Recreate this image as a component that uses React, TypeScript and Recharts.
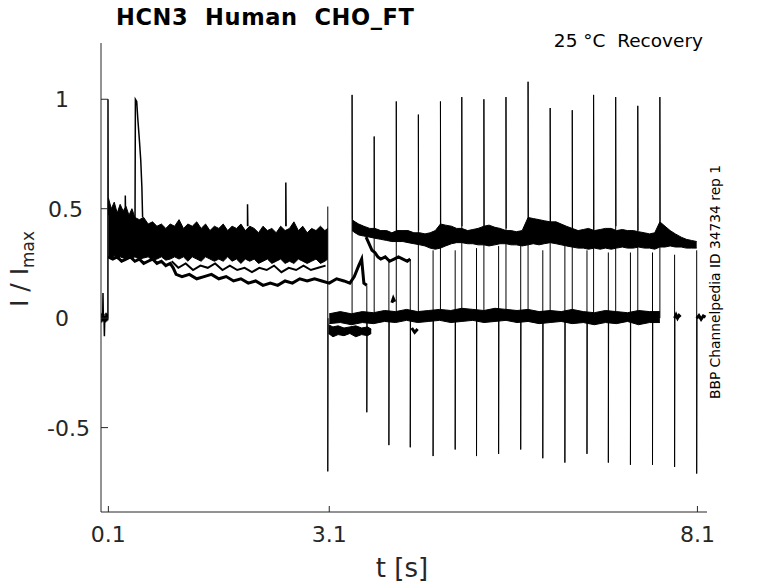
import { ComposedChart, Line, Area, XAxis, YAxis } from "recharts";

const FONT = "DejaVu Sans, sans-serif";
const INK = "#262626";

const xTicks = [0.1, 3.1, 8.1];
const xTickLabels = ["0.1", "3.1", "8.1"];
const yTicks = [-0.5, 0, 0.5, 1];
const yTickLabels = ["-0.5", "0   ", "0.5 ", "1   "];

// holding level and activating step (0 - 0.1 s)
const preT = [0.0, 0.008, 0.016, 0.022, 0.027, 0.032, 0.04, 0.046, 0.052, 0.06, 0.068, 0.076, 0.084, 0.09, 0.094, 0.095, 0.097, 0.1];
const preV = [0.02, -0.02, 0.025, -0.015, 0.115, 0.0, 0.02, -0.083, 0.01, -0.02, 0.025, -0.015, 0.02, -0.01, 0.0, 1.0, 0.55, 0.47];

// dense bundle of sweeps during the conditioning step
const bandT = [0.10, 0.14, 0.18, 0.22, 0.26, 0.30, 0.34, 0.38, 0.42, 0.46, 0.52, 0.58, 0.64, 0.70, 0.76, 0.82, 0.88, 0.94, 1.00, 1.06, 1.12, 1.18, 1.24, 1.30, 1.36, 1.42, 1.48, 1.54, 1.60, 1.66, 1.72, 1.78, 1.84, 1.90, 1.96, 2.02, 2.08, 2.14, 2.20, 2.26, 2.32, 2.38, 2.44, 2.50, 2.56, 2.62, 2.68, 2.74, 2.80, 2.86, 2.92, 2.98, 3.04, 3.08];
const bandHi = [0.55, 0.50, 0.53, 0.48, 0.52, 0.49, 0.51, 0.47, 0.50, 0.46, 0.45, 0.46, 0.43, 0.44, 0.42, 0.43, 0.41, 0.43, 0.42, 0.45, 0.41, 0.43, 0.42, 0.44, 0.41, 0.43, 0.40, 0.42, 0.41, 0.43, 0.40, 0.42, 0.41, 0.43, 0.40, 0.42, 0.41, 0.39, 0.42, 0.40, 0.41, 0.39, 0.42, 0.40, 0.41, 0.44, 0.40, 0.42, 0.39, 0.41, 0.40, 0.42, 0.40, 0.41];
const bandLo = [0.28, 0.27, 0.285, 0.27, 0.28, 0.275, 0.27, 0.285, 0.27, 0.28, 0.27, 0.275, 0.28, 0.265, 0.27, 0.28, 0.265, 0.27, 0.28, 0.27, 0.28, 0.26, 0.28, 0.27, 0.26, 0.28, 0.27, 0.26, 0.27, 0.26, 0.28, 0.26, 0.27, 0.25, 0.27, 0.26, 0.27, 0.25, 0.26, 0.27, 0.25, 0.26, 0.27, 0.25, 0.26, 0.25, 0.27, 0.26, 0.25, 0.26, 0.27, 0.25, 0.26, 0.27];

// a sweep just under the bundle
const midT = [0.96, 1.05, 1.15, 1.25, 1.35, 1.45, 1.55, 1.65, 1.75, 1.85, 1.95, 2.05, 2.15, 2.25, 2.35, 2.45, 2.55, 2.65, 2.75, 2.85, 2.95, 3.05];
const midV = [0.26, 0.23, 0.25, 0.22, 0.24, 0.23, 0.25, 0.22, 0.24, 0.22, 0.23, 0.21, 0.23, 0.22, 0.24, 0.21, 0.23, 0.22, 0.24, 0.22, 0.23, 0.24];

// lowest sweep, runs through 3.1 s
const lowT = [0.10, 0.16, 0.22, 0.28, 0.34, 0.40, 0.46, 0.52, 0.58, 0.64, 0.70, 0.76, 0.82, 0.88, 0.94, 0.98, 1.02, 1.10, 1.20, 1.30, 1.40, 1.50, 1.60, 1.70, 1.80, 1.90, 2.00, 2.10, 2.20, 2.30, 2.40, 2.50, 2.60, 2.70, 2.80, 2.90, 3.00, 3.10, 3.20, 3.30, 3.38, 3.44, 3.50, 3.54, 3.57, 3.61];
const lowV = [0.28, 0.27, 0.28, 0.26, 0.27, 0.28, 0.26, 0.27, 0.25, 0.26, 0.27, 0.25, 0.26, 0.24, 0.25, 0.23, 0.20, 0.19, 0.20, 0.18, 0.19, 0.20, 0.18, 0.19, 0.17, 0.18, 0.16, 0.17, 0.15, 0.16, 0.15, 0.17, 0.16, 0.18, 0.17, 0.18, 0.17, 0.16, 0.18, 0.17, 0.16, 0.19, 0.24, 0.27, 0.16, 0.15];

// transient peak at ~0.47 s
const peakT = [0.462, 0.467, 0.485, 0.5, 0.52, 0.54, 0.555, 0.565];
const peakV = [0.45, 1.0, 0.99, 0.91, 0.82, 0.72, 0.6, 0.46];

// short glitches on top of the bundle
const blipT = [0.33, 1.99, 2.51];
const blipBase = [0.47, 0.42, 0.42];
const blipPeak = [0.56, 0.52, 0.62];

// recovery period: sweeps back at zero
const zeroT = [3.10, 3.25, 3.40, 3.55, 3.70, 3.85, 4.00, 4.15, 4.30, 4.45, 4.60, 4.75, 4.90, 5.05, 5.20, 5.35, 5.50, 5.65, 5.80, 5.95, 6.10, 6.25, 6.40, 6.55, 6.70, 6.85, 7.00, 7.15, 7.30, 7.45, 7.59];
const zeroHi = [0.02, 0.03, 0.02, 0.03, 0.025, 0.035, 0.03, 0.04, 0.03, 0.035, 0.04, 0.035, 0.045, 0.04, 0.035, 0.045, 0.04, 0.035, 0.04, 0.03, 0.035, 0.03, 0.04, 0.03, 0.025, 0.035, 0.03, 0.025, 0.035, 0.03, 0.03];
const zeroLo = [-0.025, -0.02, -0.03, -0.02, -0.025, -0.015, -0.02, -0.01, -0.02, -0.015, -0.01, -0.02, -0.015, -0.01, -0.02, -0.015, -0.01, -0.02, -0.015, -0.025, -0.02, -0.015, -0.025, -0.02, -0.03, -0.02, -0.025, -0.015, -0.03, -0.02, -0.02];

const negT = [3.09, 3.15, 3.22, 3.30, 3.38, 3.46, 3.54, 3.62, 3.67];
const negHi = [-0.03, -0.04, -0.035, -0.045, -0.04, -0.035, -0.045, -0.04, -0.05];
const negLo = [-0.07, -0.085, -0.075, -0.08, -0.07, -0.085, -0.075, -0.08, -0.07];

const tailAT = [7.79, 7.81, 7.83, 7.85, 7.87];
const tailAV = [0.0, 0.015, 0.0, 0.012, 0.005];
const tailBT = [8.09, 8.12, 8.15, 8.18, 8.21];
const tailBV = [0.0, 0.012, -0.005, 0.01, 0.005];

const blobT = [3.95, 3.97, 3.99, 4.22, 4.26, 4.3];
const blobV = [0.07, 0.09, 0.075, -0.045, -0.065, -0.05];

// recovered current after each test step
const upT = [3.41, 3.45, 3.50, 3.57, 3.65, 3.72, 3.80, 3.88, 3.95, 4.02, 4.10, 4.17, 4.25, 4.33, 4.40, 4.47, 4.54, 4.61, 4.68, 4.76, 4.83, 4.90, 4.98, 5.05, 5.12, 5.20, 5.27, 5.35, 5.42, 5.50, 5.57, 5.64, 5.72, 5.80, 5.87, 5.95, 6.02, 6.10, 6.18, 6.25, 6.32, 6.40, 6.48, 6.55, 6.62, 6.70, 6.78, 6.85, 6.93, 7.00, 7.08, 7.15, 7.23, 7.30, 7.38, 7.45, 7.52, 7.59, 7.66, 7.73, 7.80, 7.88, 7.95, 8.02, 8.09];
const upHi = [0.45, 0.44, 0.43, 0.42, 0.41, 0.41, 0.40, 0.40, 0.39, 0.40, 0.40, 0.40, 0.39, 0.39, 0.385, 0.39, 0.40, 0.43, 0.425, 0.42, 0.41, 0.41, 0.40, 0.405, 0.41, 0.42, 0.425, 0.415, 0.41, 0.40, 0.40, 0.395, 0.40, 0.46, 0.455, 0.45, 0.445, 0.44, 0.44, 0.43, 0.42, 0.41, 0.40, 0.405, 0.41, 0.40, 0.405, 0.41, 0.41, 0.40, 0.405, 0.40, 0.40, 0.395, 0.39, 0.385, 0.39, 0.44, 0.42, 0.40, 0.385, 0.37, 0.36, 0.355, 0.35];
const upLo = [0.40, 0.39, 0.38, 0.375, 0.37, 0.365, 0.36, 0.355, 0.35, 0.35, 0.35, 0.345, 0.34, 0.335, 0.33, 0.32, 0.315, 0.32, 0.33, 0.34, 0.345, 0.345, 0.34, 0.34, 0.335, 0.335, 0.33, 0.335, 0.34, 0.34, 0.335, 0.335, 0.33, 0.335, 0.34, 0.335, 0.34, 0.345, 0.34, 0.335, 0.33, 0.325, 0.32, 0.32, 0.315, 0.32, 0.315, 0.32, 0.315, 0.32, 0.325, 0.32, 0.32, 0.325, 0.32, 0.32, 0.315, 0.325, 0.325, 0.33, 0.325, 0.325, 0.32, 0.32, 0.32];

const branchT = [3.60, 3.64, 3.68, 3.72, 3.76, 3.80, 3.86, 3.92, 3.98, 4.04, 4.10, 4.16, 4.20];
const branchV = [0.37, 0.34, 0.31, 0.30, 0.28, 0.27, 0.28, 0.26, 0.27, 0.28, 0.27, 0.26, 0.27];

// capacitive spikes
const upSpikeT = [3.41, 3.71, 4.01, 4.31, 4.61, 4.90, 5.20, 5.50, 5.80, 6.10, 6.40, 6.69, 6.99, 7.29, 7.59];
const upSpikeBase = [0.0, 0.0, 0.0, 0.0, 0.0, 0.0, 0.0, 0.0, 0.0, 0.0, 0.0, 0.0, 0.0, 0.0, 0.0];
const upSpikePeak = [1.02, 0.83, 0.99, 0.93, 0.99, 1.01, 1.0, 1.01, 1.08, 0.96, 0.95, 1.02, 1.01, 0.97, 1.01];
const upSpikeSettle = [0.45, 0.37, 0.40, 0.40, 0.43, 0.42, 0.42, 0.41, 0.46, 0.44, 0.41, 0.40, 0.42, 0.40, 0.44];

const downSpikeT = [3.08, 3.61, 3.91, 4.20, 4.51, 4.81, 5.10, 5.40, 5.70, 6.00, 6.30, 6.60, 6.89, 7.19, 7.49, 7.79, 8.09];
const downSpikeFrom = [0.51, 0.15, 0.27, 0.27, 0.31, 0.31, 0.32, 0.33, 0.34, 0.31, 0.33, 0.31, 0.30, 0.30, 0.30, 0.29, 0.31];
const downSpikeMin = [-0.70, -0.43, -0.58, -0.59, -0.63, -0.60, -0.63, -0.62, -0.60, -0.64, -0.66, -0.62, -0.66, -0.67, -0.67, -0.68, -0.71];
const downSpikeEnd = [0.0, 0.0, 0.0, 0.0, 0.0, 0.0, 0.0, 0.0, 0.0, 0.0, 0.0, 0.0, 0.0, 0.0, 0.0, 0.0, 0.0];

const pts = (ts: number[], vs: number[]) => ts.map((t, i) => ({ t, v: vs[i] }));
const rng = (ts: number[], lo: number[], hi: number[]) => ts.map((t, i) => ({ t, r: [lo[i], hi[i]] }));
const spikes = (ts: number[], a: number[], b: number[], c: number[]) =>
  ts.flatMap((t, i) => [
    { t, v: a[i] },
    { t, v: b[i] },
    { t: t + 0.004, v: c[i] },
    { t: t + 0.004, v: null },
  ]);
const gap = (ts: number[], vs: number[], n: number) => {
  const out: { t: number; v: number | null }[] = [];
  ts.forEach((t, i) => {
    if (i > 0 && i % n === 0) out.push({ t, v: null });
    out.push({ t, v: vs[i] });
  });
  return out;
};

function XTick(props: any) {
  const { x, y, payload } = props;
  const label = xTickLabels[xTicks.indexOf(payload.value)];
  return (
    <g>
      <line x1={x} x2={x} y1={y} y2={y - 6} stroke={INK} />
      <text x={x} y={y + 30} textAnchor="middle" fontSize={22} fill={INK} fontFamily={FONT}>
        {label}
      </text>
    </g>
  );
}

function YTick(props: any) {
  const { x, y, payload } = props;
  const label = yTickLabels[yTicks.indexOf(payload.value)];
  return (
    <g>
      <line x1={x} x2={x + 7} y1={y} y2={y} stroke={INK} />
      <text x={x - 11} y={y + 8} textAnchor="end" fontSize={22} fill={INK} fontFamily={FONT} style={{ whiteSpace: "pre" }}>
        {label}
      </text>
    </g>
  );
}

const line = (key: string, data: any[], w = 1) => (
  <Line
    key={key}
    data={data}
    dataKey="v"
    type="linear"
    stroke="#000"
    strokeWidth={w}
    dot={false}
    activeDot={false}
    connectNulls={false}
    isAnimationActive={false}
  />
);

const band = (key: string, data: any[]) => (
  <Area
    key={key}
    data={data}
    dataKey="r"
    type="linear"
    stroke="#000"
    strokeWidth={1}
    fill="#000"
    fillOpacity={1}
    dot={false}
    activeDot={false}
    isAnimationActive={false}
  />
);

export default function App() {
  return (
    <div style={{ position: "fixed", left: 0, top: 0, width: 778, height: 583, fontFamily: FONT, background: "#fff" }}>
      <ComposedChart width={778} height={583} margin={{ top: 43, right: 71, bottom: 0, left: 0 }}>
        <XAxis
          dataKey="t"
          type="number"
          domain={[0, 8.23]}
          allowDataOverflow
          ticks={xTicks}
          interval={0}
          height={71}
          tickSize={0}
          tickMargin={0}
          tickLine={false}
          axisLine={{ stroke: INK }}
          tick={<XTick />}
        />
        <YAxis
          type="number"
          domain={[-0.8855, 1.257]}
          allowDataOverflow
          ticks={yTicks}
          interval={0}
          width={101}
          tickSize={0}
          tickMargin={0}
          tickLine={false}
          axisLine={{ stroke: INK }}
          tick={<YTick />}
        />
        {band("band", rng(bandT, bandLo, bandHi))}
        {band("zero", rng(zeroT, zeroLo, zeroHi))}
        {band("neg", rng(negT, negLo, negHi))}
        {band("up", rng(upT, upLo, upHi))}
        {line("pre", pts(preT, preV), 1.5)}
        {line("mid", pts(midT, midV), 2)}
        {line("low", pts(lowT, lowV), 3)}
        {line("peak", pts(peakT, peakV), 1.5)}
        {line("blip", spikes(blipT, blipBase, blipPeak, blipBase), 1.5)}
        {line("branch", pts(branchT, branchV), 3)}
        {line("blob", gap(blobT, blobV, 3), 3)}
        {line("tailA", pts(tailAT, tailAV), 3)}
        {line("tailB", pts(tailBT, tailBV), 3)}
        {line("upSpikes", spikes(upSpikeT, upSpikeBase, upSpikePeak, upSpikeSettle), 1)}
        {line("downSpikes", spikes(downSpikeT, downSpikeFrom, downSpikeMin, downSpikeEnd), 1)}
      </ComposedChart>
      <svg width={778} height={583} style={{ position: "absolute", left: 0, top: 0, pointerEvents: "none" }}>
        <text x={116} y={25} fontSize={22.5} fontWeight="bold" letterSpacing={0.6} fill="#000" fontFamily={FONT} style={{ whiteSpace: "pre" }}>
          HCN3  Human  CHO_FT
        </text>
        <text x={703} y={47} fontSize={18.5} textAnchor="end" fill="#000" fontFamily={FONT} style={{ whiteSpace: "pre" }}>
          25 °C  Recovery
        </text>
        <text x={402} y={577} fontSize={26} textAnchor="middle" fill={INK} fontFamily={FONT}>
          t [s]
        </text>
        <text
          x={28}
          y={269}
          fontSize={25}
          textAnchor="middle"
          fill={INK}
          fontFamily={FONT}
          transform="rotate(-90, 28, 269)"
          style={{ whiteSpace: "pre" }}
        >
          I / I
          <tspan fontSize={17} dy={6}>
            max
          </tspan>
        </text>
        <text
          x={720}
          y={282}
          fontSize={13.8}
          textAnchor="middle"
          fill="#000"
          fontFamily={FONT}
          transform="rotate(-90, 720, 282)"
        >
          BBP Channelpedia ID 34734 rep 1
        </text>
      </svg>
    </div>
  );
}
